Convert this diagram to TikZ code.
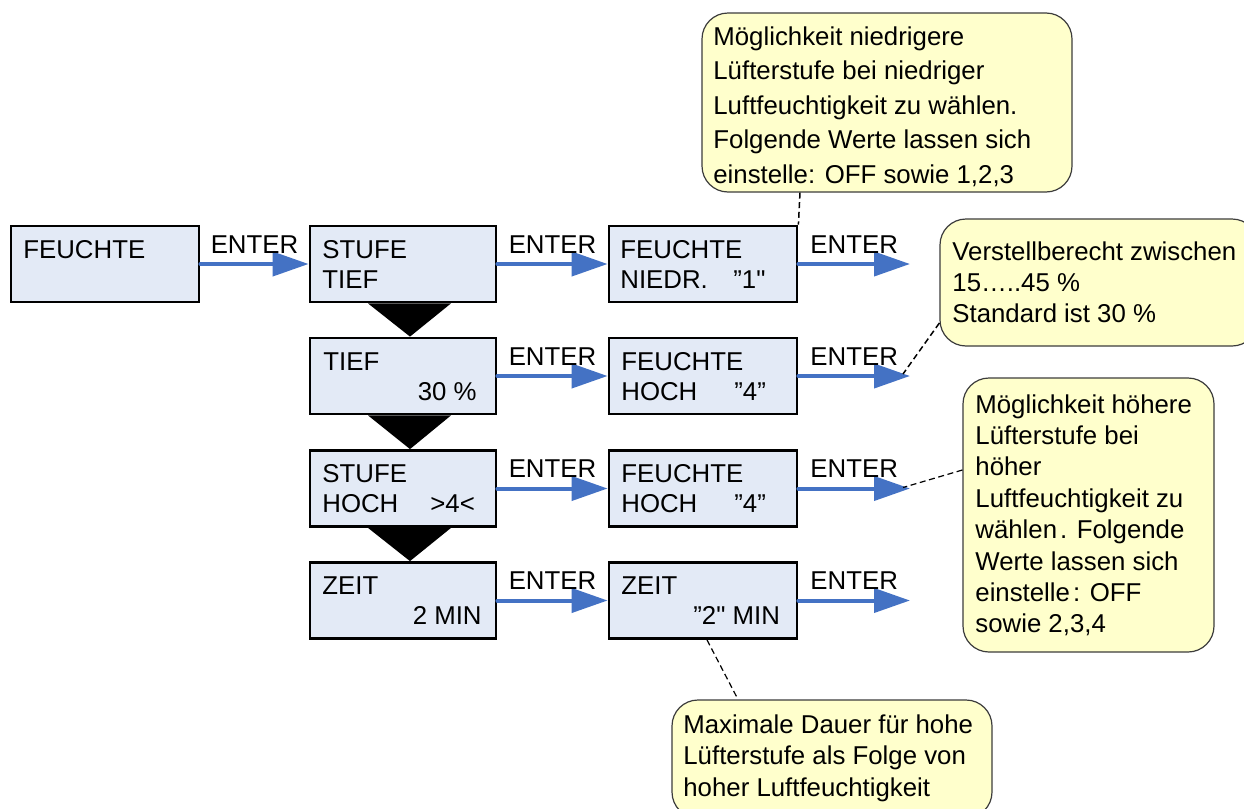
\documentclass[tikz,border=0pt]{standalone}
\usepackage{fontspec}
\setmainfont{Liberation Sans}
\newfontfamily\nolig{Liberation Sans}[Ligatures=TeXOff]
\usetikzlibrary{arrows.meta}
\definecolor{flowblue}{RGB}{68,114,196}
\definecolor{boxfill}{RGB}{227,234,246}
\definecolor{notefill}{RGB}{255,255,204}
\definecolor{noteline}{RGB}{60,60,60}
\newcommand{\sq}{{\nolig"}}
\tikzset{
  txt/.style={font=\fontsize{12.9pt}{15pt}\selectfont, inner sep=0pt, anchor=base west},
  txtr/.style={txt, anchor=base east},
  menubox/.style={draw=black, line width=1.4pt, fill=boxfill, minimum height=38pt, inner sep=0pt},
  colzero/.style={menubox, minimum width=94pt},
  colone/.style={menubox, minimum width=93pt},
  coltwo/.style={menubox, minimum width=94pt},
  flow/.style={draw=flowblue, line width=2pt, line cap=round, -{Triangle[length=18pt,width=12pt]}},
  enter/.style={txt, anchor=base, yshift=5.5pt},
  note/.style={draw=noteline, line width=0.6pt, fill=notefill, rounded corners=13pt, inner sep=0pt},
  pointer/.style={draw=black, line width=0.75pt, dash pattern=on 3pt off 1.8pt},
  funnel/.style={fill=black},
}
\begin{document}
\begin{tikzpicture}[x=0.5pt,y=-0.5pt]
\useasboundingbox (0,0) rectangle (1244,809);
\clip (0,0) rectangle (1244,809);

% callouts
\node[note, minimum width=185pt, minimum height=89.5pt] (n1) at (887,102.5) {};
\node[note, minimum width=159pt, minimum height=63.5pt] (n2) at (1099,282.5) {};
\node[note, minimum width=125.5pt, minimum height=137pt] (n3) at (1088.5,515) {};
\node[note, minimum width=160pt, minimum height=59pt] (n4) at (832,759) {};

\node[txt] (n1t) at (713,45) {\vtop{\baselineskip=17.25pt
  \hbox{Möglichkeit niedrigere}\hbox{Lüfterstufe bei niedriger}\hbox{Luftfeuchtigkeit zu wählen.}\hbox{Folgende Werte lassen sich}\hbox{einstelle: OFF sowie 1,2,3}}};
\node[txt] (n2t) at (952,260) {\vtop{\baselineskip=15.5pt
  \hbox{Verstellberecht zwischen}\hbox{15…..45 \%}\hbox{Standard ist 30 \%}}};
\node[txt] (n3t) at (975,413) {\vtop{\baselineskip=15.7pt
  \hbox{Möglichkeit höhere}\hbox{Lüfterstufe bei}\hbox{höher}\hbox{Luftfeuchtigkeit zu}\hbox{wählen\kern1.5pt. Folgende}\hbox{Werte lassen sich}\hbox{einstelle\kern1.5pt: OFF}\hbox{sowie 2,3,4}}};
\node[txt] (n4t) at (683,733) {\vtop{\baselineskip=15.75pt
  \hbox{Maximale Dauer für hohe}\hbox{Lüfterstufe als Folge von}\hbox{hoher Luftfeuchtigkeit}}};

% menu boxes
\node[colzero] (r1c0) at (105,264) {};
\node[colone] (r1c1) at (403,264) {};
\node[coltwo] (r1c2) at (703,264) {};
\node[colone] (r2c1) at (403,376) {};
\node[coltwo] (r2c2) at (703,376) {};
\node[colone] (r3c1) at (403,488.5) {};
\node[coltwo] (r3c2) at (703,488.5) {};
\node[colone] (r4c1) at (403,600.5) {};
\node[coltwo] (r4c2) at (703,600.5) {};

% funnels between steps
\fill[funnel] ([xshift=-17.5pt]r1c1.south) -- ([xshift=24pt]r1c1.south) -- ([xshift=3.5pt]r2c1.north) -- cycle;
\fill[funnel] ([xshift=-17.5pt]r2c1.south) -- ([xshift=24pt]r2c1.south) -- ([xshift=3.5pt]r3c1.north) -- cycle;
\fill[funnel] ([xshift=-17.5pt]r3c1.south) -- ([xshift=24pt]r3c1.south) -- ([xshift=3.5pt]r4c1.north) -- cycle;

% box texts
\node[txt] (t10) at (23,258) {FEUCHTE};
\node[txt] (t11a) at (322,258) {STUFE};
\node[txt] (t11b) at (322,288) {TIEF};
\node[txt] (t12a) at (620,258) {FEUCHTE};
\node[txt] (t12b) at (620,288) {NIEDR.};
\node[txt] (t12c) at (733,288) {”1\sq};

\node[txt] (t21a) at (323,370) {TIEF};
\node[txtr] (t21b) at (477,400) {30 \%};
\node[txt] (t22a) at (621,370) {FEUCHTE};
\node[txt] (t22b) at (621,400) {HOCH};
\node[txt] (t22c) at (734,400) {”4”};

\node[txt] (t31a) at (322,482.5) {STUFE};
\node[txt] (t31b) at (322,512.5) {HOCH};
\node[txt] (t31c) at (430,512.5) {>4<};
\node[txt] (t32a) at (621,482.5) {FEUCHTE};
\node[txt] (t32b) at (621,512.5) {HOCH};
\node[txt] (t32c) at (734,512.5) {”4”};

\node[txt] (t41a) at (322,594.5) {ZEIT};
\node[txtr] (t41b) at (482,624.5) {2 MIN};
\node[txt] (t42a) at (621,594.5) {ZEIT};
\node[txt] (t42b) at (693,624.5) {”2\sq{} MIN};

% free arrow ends
\coordinate (e1) at (910,264);
\coordinate (e2) at (910,376);
\coordinate (e3) at (910,488.5);
\coordinate (e4) at (910,600.5);

% arrows
\draw[flow] (r1c0) -- (r1c1) node[midway, enter] {ENTER};
\draw[flow] (r1c1) -- (r1c2) node[midway, enter] {ENTER};
\draw[flow] (r1c2) -- (e1) node[midway, enter] {ENTER};
\draw[flow] (r2c1) -- (r2c2) node[midway, enter] {ENTER};
\draw[flow] (r2c2) -- (e2) node[midway, enter] {ENTER};
\draw[flow] (r3c1) -- (r3c2) node[midway, enter] {ENTER};
\draw[flow] (r3c2) -- (e3) node[midway, enter] {ENTER};
\draw[flow] (r4c1) -- (r4c2) node[midway, enter] {ENTER};
\draw[flow] (r4c2) -- (e4) node[midway, enter] {ENTER};

% callout pointers
\draw[pointer] ([xshift=-43.5pt]n1.south) -- (r1c2.north east);
\draw[pointer] ([yshift=-20.25pt]n2.west) -- ([xshift=-3.5pt,yshift=1pt]e2);
\draw[pointer, line width=0.6pt] ([yshift=22.5pt]n3.west) -- ([xshift=-3.5pt,yshift=0.5pt]e3);
\draw[pointer, line width=0.6pt] ([xshift=2pt]r4c2.south) -- ([xshift=-47pt]n4.north);
\end{tikzpicture}
\end{document}
